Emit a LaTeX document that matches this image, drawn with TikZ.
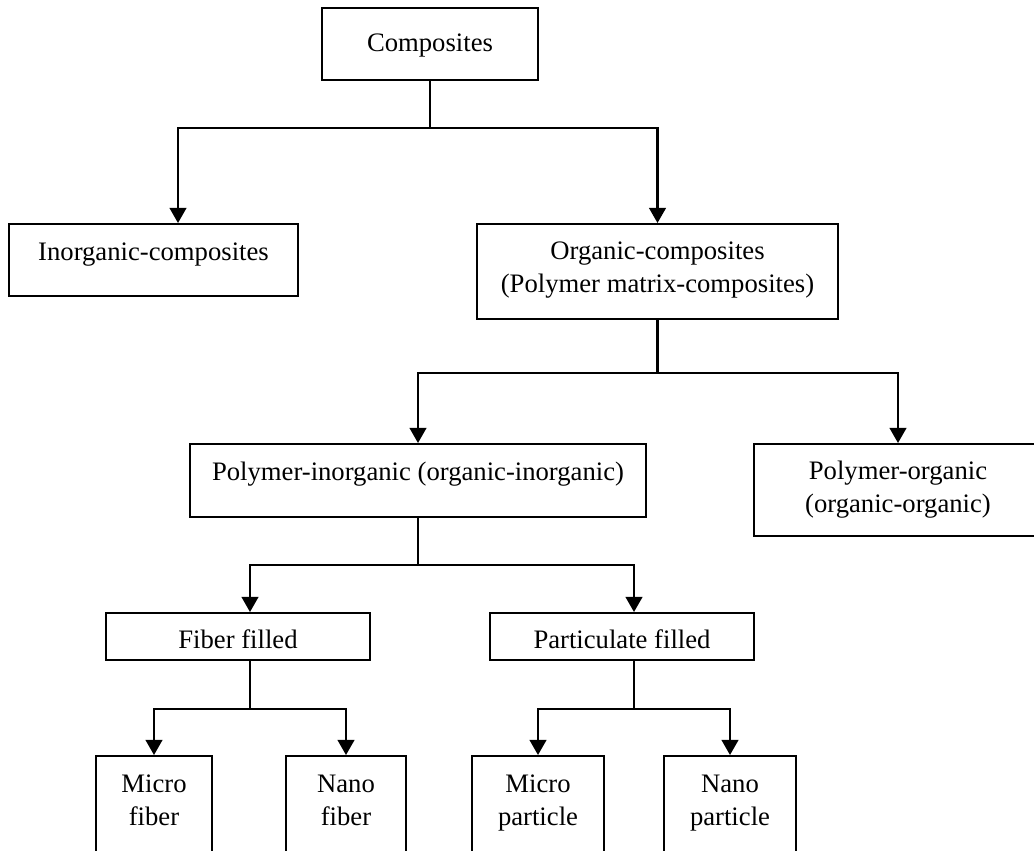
\documentclass[tikz,border=0pt]{standalone}
\usepackage{fontspec}
\setmainfont{Liberation Serif}
\usetikzlibrary{arrows.meta}

\begin{document}
\begin{tikzpicture}[x=0.45pt, y=-0.45pt, line width=1pt,
  >={Triangle[length=6.8pt, width=7.5pt]},
  font=\fontsize{12}{14.85}\selectfont,
  box/.style={draw, anchor=north, align=center, inner xsep=0pt, inner ysep=0pt, text height=16.2pt}]
\clip (0,0) rectangle (1034,850);

% top levels
\node[box, minimum width=97.2pt, text height=19.35pt, text depth=13.05pt] (comp) at (430,7) {Composites};
\node[box, minimum width=130.05pt, text depth=16.2pt] (inorg) at (153.5,223) {Inorganic-composites};
\node[box, minimum width=162.45pt, text height=30.6pt, text depth=12.15pt] (org) at (657.5,223) {Organic-composites\\(Polymer matrix-composites)};
\coordinate (inorgtop) at (178,223);

\node[box, minimum width=205.2pt, text depth=16.65pt] (polin) at (418,443) {Polymer-inorganic (organic-inorganic)};
\node[box, minimum width=129.6pt, text height=30.6pt, text depth=10.8pt] (polorg) at (898,443) {Polymer-organic\\(organic-organic)};

% filler types
\node[box, minimum width=118.8pt, text height=15.75pt, text depth=5.4pt] (fib) at (238,612) {Fiber filled};
\node[box, minimum width=118.8pt, text height=15.75pt, text depth=5.4pt] (part) at (622,612) {Particulate filled};
\coordinate (fibtop) at (250,612);
\coordinate (parttop) at (634,612);

% sizes
\node[box, minimum width=52.2pt, text height=31.05pt, text depth=22.95pt] (mfib) at (154,755) {Micro\\fiber};
\node[box, minimum width=54pt, text height=31.05pt, text depth=22.95pt] (nfib) at (346,755) {Nano\\fiber};
\node[box, minimum width=59.4pt, text height=31.05pt, text depth=22.95pt] (mpart) at (538,755) {Micro\\particle};
\node[box, minimum width=59.4pt, text height=31.05pt, text depth=22.95pt] (npart) at (730,755) {Nano\\particle};

\draw[->] (comp.south) -- ++(0,47) -| (inorgtop);
\draw[->] (comp.south) -- ++(0,47) -| (org.north);
\draw[->] (org.south) -- ++(0,53) -| (polin.north);
\draw[->] (org.south) -- ++(0,53) -| (polorg.north);
\draw[->] (polin.south) -- ++(0,47) -| (fibtop);
\draw[->] (polin.south) -- ++(0,47) -| (parttop);
\draw[->] (fibtop |- fib.south) -- ++(0,48) -| (mfib.north);
\draw[->] (fibtop |- fib.south) -- ++(0,48) -| (nfib.north);
\draw[->] (parttop |- part.south) -- ++(0,48) -| (mpart.north);
\draw[->] (parttop |- part.south) -- ++(0,48) -| (npart.north);
\end{tikzpicture}
\end{document}
